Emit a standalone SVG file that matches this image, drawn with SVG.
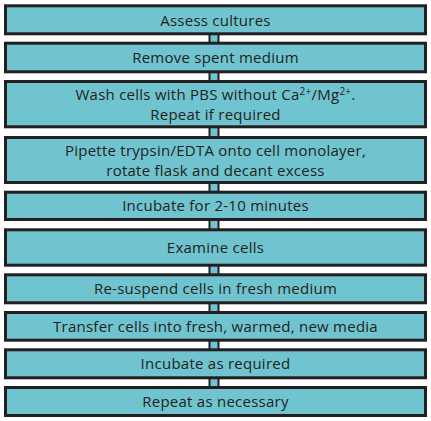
<svg xmlns="http://www.w3.org/2000/svg" width="431" height="421" viewBox="0 0 431 421">
<style>
.box{fill:#6fc4cf;stroke:#231f20;stroke-width:3}
.con{fill:#6fc4cf;stroke:#231f20;stroke-width:2}
text{font-family:"Open Sans","DejaVu Sans",sans-serif;font-size:15px;font-weight:400;letter-spacing:0.25px;fill:#231f20;text-anchor:middle}
.sup{font-size:10px}
</style>
<rect x="0" y="0" width="431" height="421" fill="#ffffff"/>
<g id="connectors">
<rect class="con" x="209.5" y="34" width="9" height="10"/>
<rect class="con" x="209.5" y="72" width="9" height="10"/>
<rect class="con" x="209.5" y="127" width="9" height="11"/>
<rect class="con" x="209.5" y="183" width="9" height="9"/>
<rect class="con" x="209.5" y="220" width="9" height="10"/>
<rect class="con" x="209.5" y="265" width="9" height="10"/>
<rect class="con" x="209.5" y="303" width="9" height="10"/>
<rect class="con" x="209.5" y="340" width="9" height="10"/>
<rect class="con" x="209.5" y="378" width="9" height="10"/>
</g>
<g id="n1"><rect class="box" x="5.5" y="5.8" width="420" height="28"/><text x="215.5" y="25.5">Assess cultures</text></g>
<g id="n2"><rect class="box" x="5.5" y="43.2" width="420" height="28.6"/><text x="215.5" y="63.3">Remove spent medium</text></g>
<g id="n3"><rect class="box" x="5.5" y="81.5" width="420" height="45.3"/><text x="215.5" y="99.8">Wash cells with PBS without Ca<tspan class="sup" dy="-5">2+</tspan><tspan dy="5">/Mg</tspan><tspan class="sup" dy="-5">2+</tspan><tspan dy="5">.</tspan></text><text x="215.5" y="120.3">Repeat if required</text></g>
<g id="n4"><rect class="box" x="5.5" y="137.5" width="420" height="45"/><text x="215.5" y="155.8">Pipette trypsin/EDTA onto cell monolayer,</text><text x="215.5" y="176.3">rotate flask and decant excess</text></g>
<g id="n5"><rect class="box" x="5.5" y="192.2" width="420" height="27.3"/><text x="215.5" y="211.3">Incubate for 2-10 minutes</text></g>
<g id="n6"><rect class="box" x="5.5" y="229.8" width="420" height="35.4"/><text x="215.5" y="252.6">Examine cells</text></g>
<g id="n7"><rect class="box" x="5.5" y="274.8" width="420" height="28"/><text x="215.5" y="294.3">Re-suspend cells in fresh medium</text></g>
<g id="n8"><rect class="box" x="5.5" y="312.5" width="420" height="27.7"/><text x="215.5" y="331.6">Transfer cells into fresh, warmed, new media</text></g>
<g id="n9"><rect class="box" x="5.5" y="349.8" width="420" height="28"/><text x="215.5" y="369.1">Incubate as required</text></g>
<g id="n10"><rect class="box" x="5.5" y="387.5" width="420" height="28"/><text x="215.5" y="407.1">Repeat as necessary</text></g>
</svg>
